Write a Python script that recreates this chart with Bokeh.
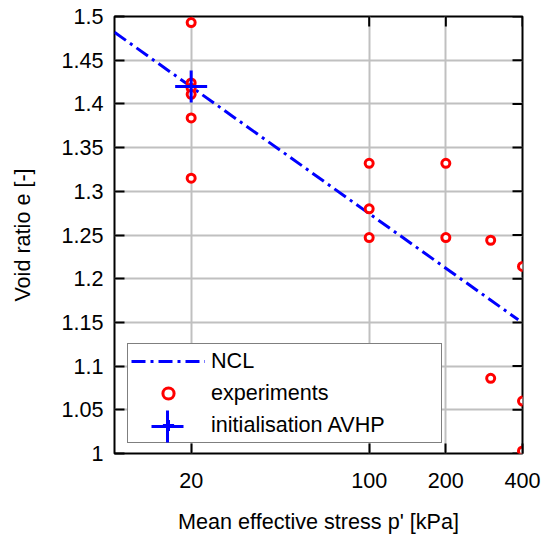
import math
from bokeh.plotting import figure
from bokeh.models import FixedTicker, Legend, LegendItem, Range1d
from bokeh.embed import file_html
from bokeh.resources import INLINE

# ---------------- data ----------------
exp_p = [20, 20, 20, 20, 20, 20, 100, 100, 100, 200, 200, 300, 300, 400, 400, 400]
exp_e = [1.493, 1.424, 1.418, 1.411, 1.384, 1.315, 1.332, 1.280, 1.247,
         1.332, 1.247, 1.244, 1.086, 1.214, 1.060, 1.003]

ncl_p = [10, 385]
ncl_e = [1.482, 1.153]

init_p = [20]
init_e = [1.420]

x_ticks = [20, 100, 200, 400]
x_tick_labels = ["20", "100", "200", "400"]
x_grid = [20, 100, 200]
y_ticks = [1.0, 1.05, 1.1, 1.15, 1.2, 1.25, 1.3, 1.35, 1.4, 1.45, 1.5]
y_tick_labels = ["1", "1.05", "1.1", "1.15", "1.2", "1.25", "1.3", "1.35", "1.4", "1.45", "1.5"]

X_MIN, X_MAX = 10, 400
Y_MIN, Y_MAX = 1.0, 1.5

FONT = "Liberation Sans"
FS = "21.6px"

p = figure(width=542, height=536, x_axis_type="log",
           x_range=Range1d(X_MIN, X_MAX), y_range=Range1d(Y_MIN, Y_MAX),
           output_backend="svg", toolbar_location=None,
           min_border_left=114, min_border_right=20,
           min_border_top=16, min_border_bottom=83)
p.background_fill_color = "white"
p.border_fill_color = "white"
p.outline_line_color = "black"
p.outline_line_width = 2

# axes
for ax in (p.xaxis[0], p.yaxis[0]):
    ax.major_tick_in = 10
    ax.major_tick_out = 0
    ax.major_tick_line_width = 2
    ax.major_tick_line_color = "black"
    ax.minor_tick_line_color = None
    ax.axis_line_color = None
    ax.major_label_text_font = FONT
    ax.major_label_text_font_size = FS
    ax.major_label_text_color = "black"
    ax.axis_label_text_font = FONT
    ax.axis_label_text_font_size = FS
    ax.axis_label_text_font_style = "normal"
    ax.axis_label_text_color = "black"

p.xaxis[0].ticker = FixedTicker(ticks=x_ticks)
p.xaxis[0].major_label_overrides = dict(zip(x_ticks, x_tick_labels))
p.xaxis[0].major_label_standoff = 19
p.xaxis[0].axis_label = "Mean effective stress p' [kPa]"
p.xaxis[0].axis_label_standoff = 18

p.yaxis[0].ticker = FixedTicker(ticks=y_ticks)
p.yaxis[0].major_label_overrides = dict(zip(y_ticks, y_tick_labels))
p.yaxis[0].major_label_standoff = 11
p.yaxis[0].axis_label = "Void ratio e [-]"
p.yaxis[0].axis_label_standoff = 23

# grid
p.xgrid.ticker = FixedTicker(ticks=x_grid)
p.ygrid.ticker = FixedTicker(ticks=y_ticks)
for g in (p.xgrid[0], p.ygrid[0]):
    g.grid_line_color = "#c0c0c0"
    g.grid_line_width = 2

# mirrored inward ticks on top and right edges (half of each dash is clipped by the frame)
p.scatter(x_ticks, [Y_MAX] * len(x_ticks), marker="dash", size=20, angle=math.pi / 2,
          line_color="black", line_width=2)
p.scatter([X_MAX] * len(y_ticks), y_ticks, marker="dash", size=20,
          line_color="black", line_width=2)

# glyphs
ncl = p.line(ncl_p, ncl_e, line_color="#0000ff", line_width=3, line_dash="14 5 3 5")
exp = p.scatter(exp_p, exp_e, marker="circle", size=8, line_color="#ff0000",
                line_width=3, fill_color="white")
ini = p.scatter(init_p, init_e, marker="cross", size=32, line_color="#0000ff",
                line_width=3)

legend = Legend(items=[LegendItem(label="NCL", renderers=[ncl]),
                       LegendItem(label="experiments", renderers=[exp]),
                       LegendItem(label="initialisation AVHP", renderers=[ini])],
                location=(13, 10), padding=3, spacing=4, margin=0,
                glyph_height=28, glyph_width=74, label_height=28,
                label_standoff=6, label_width=227,
                label_text_font=FONT, label_text_font_size=FS,
                label_text_color="black",
                border_line_color="black", border_line_width=1.5,
                background_fill_color="white", background_fill_alpha=1.0)
p.add_layout(legend)

# overlay legend drawing the large cross symbol
legend2 = Legend(items=[LegendItem(label=" ", renderers=[ini])],
                 location=(13, -13), padding=0, spacing=0, margin=0,
                 glyph_height=80, glyph_width=80, label_height=80,
                 label_standoff=0, label_width=0,
                 label_text_font=FONT, label_text_font_size=FS,
                 border_line_alpha=0, background_fill_alpha=0)
p.add_layout(legend2)

open("out.html", "w").write(file_html(p, INLINE))
